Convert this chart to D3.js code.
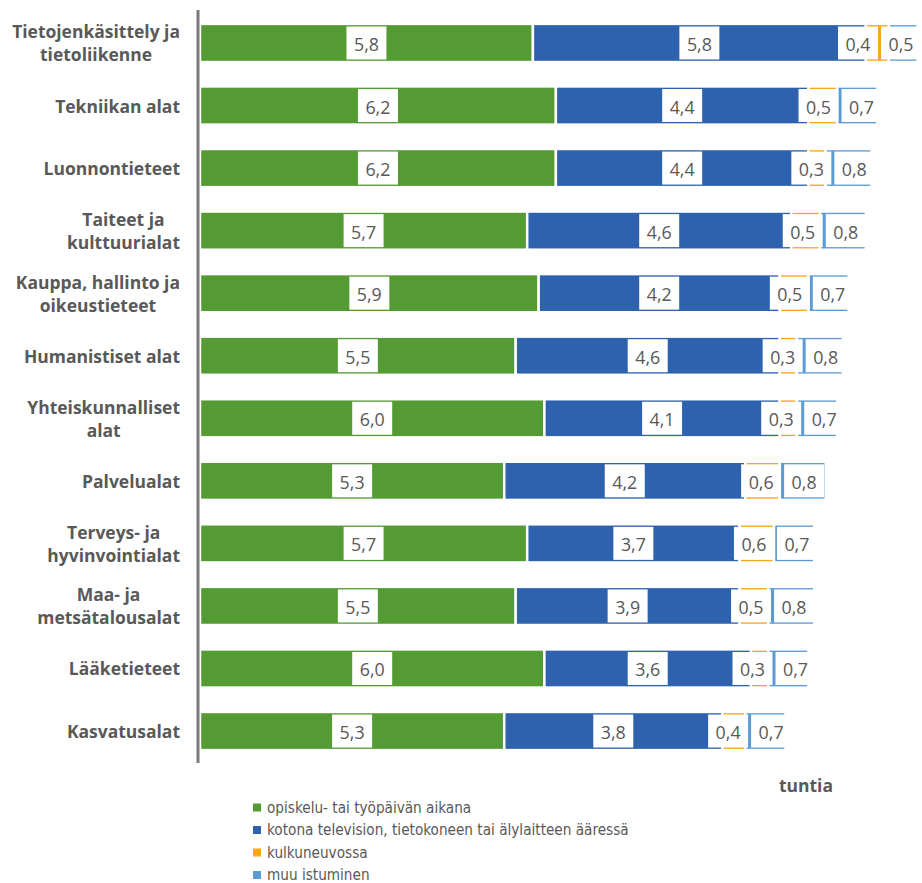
<!DOCTYPE html>
<html><head><meta charset="utf-8">
<script src="https://cdn.jsdelivr.net/npm/d3@7/dist/d3.min.js"></script>
<style>body{margin:0;background:#fff}svg{display:block}</style>
</head><body><svg id="c" width="922" height="883"></svg>
<script>
const categories = ["Tietojenkäsittely ja\ntietoliikenne","Tekniikan alat","Luonnontieteet","Taiteet ja\nkulttuurialat","Kauppa, hallinto ja\noikeustieteet","Humanistiset alat","Yhteiskunnalliset\nalat","Palvelualat","Terveys- ja\nhyvinvointialat","Maa- ja\nmetsätalousalat","Lääketieteet","Kasvatusalat"];
const seriesNames = ["opiskelu- tai työpäivän aikana","kotona television, tietokoneen tai älylaitteen ääressä","kulkuneuvossa","muu istuminen"];
const work = [5.8,6.2,6.2,5.7,5.9,5.5,6.0,5.3,5.7,5.5,6.0,5.3];
const home = [5.8,4.4,4.4,4.6,4.2,4.6,4.1,4.2,3.7,3.9,3.6,3.8];
const vehicle = [0.4,0.5,0.3,0.5,0.5,0.3,0.3,0.6,0.6,0.5,0.3,0.4];
const other = [0.5,0.7,0.8,0.8,0.7,0.8,0.7,0.8,0.7,0.8,0.7,0.7];
const unitLabel = "tuntia";
const colors = ["#549b34","#2f62ae","#f9a61b","#5b9bd5"];

const svg = d3.select("#c");
const W = 922;
const textColor = "#595959";
const font = "'Open Sans','Noto Sans',sans-serif";
const legFont = "'Liberation Sans Narrow','DejaVu Sans Condensed','Lato',sans-serif";

function fitSize(text, fam, weight, target, base){
  const t = svg.append("text").text(text).attr("font-family",fam).attr("font-weight",weight).attr("font-size",base);
  const w = t.node().getComputedTextLength();
  t.remove();
  return base*target/w;
}
const catSize = fitSize("Tietojenkäsittely ja",font,"bold",168,16);
const legSize = Math.min(18, fitSize("kotona television, tietokoneen tai älylaitteen ääressä",legFont,"normal",362,16));
const valSize = fitSize("0,3",font,"normal",25,17);

const table = categories.map((c,i)=>({cat:c, vals:[work[i],home[i],vehicle[i],other[i]]}));
const stack = d3.stack().keys([0,1,2,3]).value((d,k)=>d.vals[k])(table);

const x = d3.scaleLinear().domain([0,13]).range([200, 200+13*57.4]);
const y = d3.scaleBand().domain(categories).range([12, 762]).paddingInner(0.39).paddingOuter(0.19);

// bars
stack.forEach((s,k)=>{
  svg.append("g").selectAll("rect").data(s).join("rect")
    .attr("x", d=>x(d[0]))
    .attr("y", (d,i)=>y(categories[i]))
    .attr("width", d=>x(d[1])-x(d[0]))
    .attr("height", y.bandwidth())
    .attr("fill", colors[k])
    .attr("stroke","#fff").attr("stroke-width",2.5);
});

// value labels with white boxes and overlap resolution
const lblG = svg.append("g");
const fmt = v => d3.format(".1f")(v).replace(".", ",");
categories.forEach((c,i)=>{
  const cy = y(c) + y.bandwidth()/2;
  const items = stack.map((s,k)=>{
    const d = s[i];
    const t = lblG.append("text").text(fmt(d[1]-d[0]))
      .attr("font-family",font).attr("font-size",valSize).attr("fill",textColor)
      .attr("text-anchor","middle").attr("dominant-baseline","central");
    const w = t.node().getComputedTextLength() + 15;
    return {t, w, c:(x(d[0])+x(d[1]))/2};
  });
  const gap = 3;
  for(let it=0; it<50; it++){
    for(let j=1;j<items.length;j++){
      const a=items[j-1], b=items[j];
      const ov = (a.c+a.w/2+gap) - (b.c-b.w/2);
      if(ov>0){ a.c-=ov/2; b.c+=ov/2; }
    }
    const last = items[items.length-1];
    const over = last.c+last.w/2 - (W-1);
    if(over>0) last.c -= over;
  }
  items.forEach(o=>{
    lblG.insert("rect","text").attr("x",o.c-o.w/2).attr("y",cy-16.5).attr("width",o.w).attr("height",33).attr("fill","#fff");
    o.t.attr("x",o.c).attr("y",cy+1);
  });
});
lblG.selectAll("text").raise();

// axis line
svg.append("line").attr("x1",198).attr("x2",198).attr("y1",10).attr("y2",763)
  .attr("stroke","#7a7a7a").attr("stroke-width",3);

// category labels
categories.forEach(c=>{
  const lines = c.split("\n");
  const cy = y(c)+y.bandwidth()/2;
  const lh = 23;
  const g = svg.append("g");
  const ts = lines.map((l,j)=>g.append("text").text(l)
    .attr("font-family",font).attr("font-weight","bold").attr("font-size",catSize)
    .attr("fill",textColor).attr("text-anchor","middle").attr("dominant-baseline","central")
    .attr("y", cy + (j-(lines.length-1)/2)*lh));
  const mw = d3.max(ts, t=>t.node().getComputedTextLength());
  ts.forEach(t=>t.attr("x", 180 - mw/2));
});

// unit label
svg.append("text").text(unitLabel).attr("x",833).attr("y",785)
  .attr("font-family",font).attr("font-weight","bold").attr("font-size",catSize)
  .attr("fill",textColor).attr("text-anchor","end").attr("dominant-baseline","central");

// legend
seriesNames.forEach((n,k)=>{
  const ly = 807.5 + k*22.5;
  svg.append("rect").attr("x",253).attr("y",ly-4).attr("width",8).attr("height",8).attr("fill",colors[k]);
  svg.append("text").text(n).attr("x",267).attr("y",ly)
    .attr("font-family",legFont).attr("font-size",legSize).attr("fill",textColor)
    .attr("dominant-baseline","central");
});
</script></body></html>
